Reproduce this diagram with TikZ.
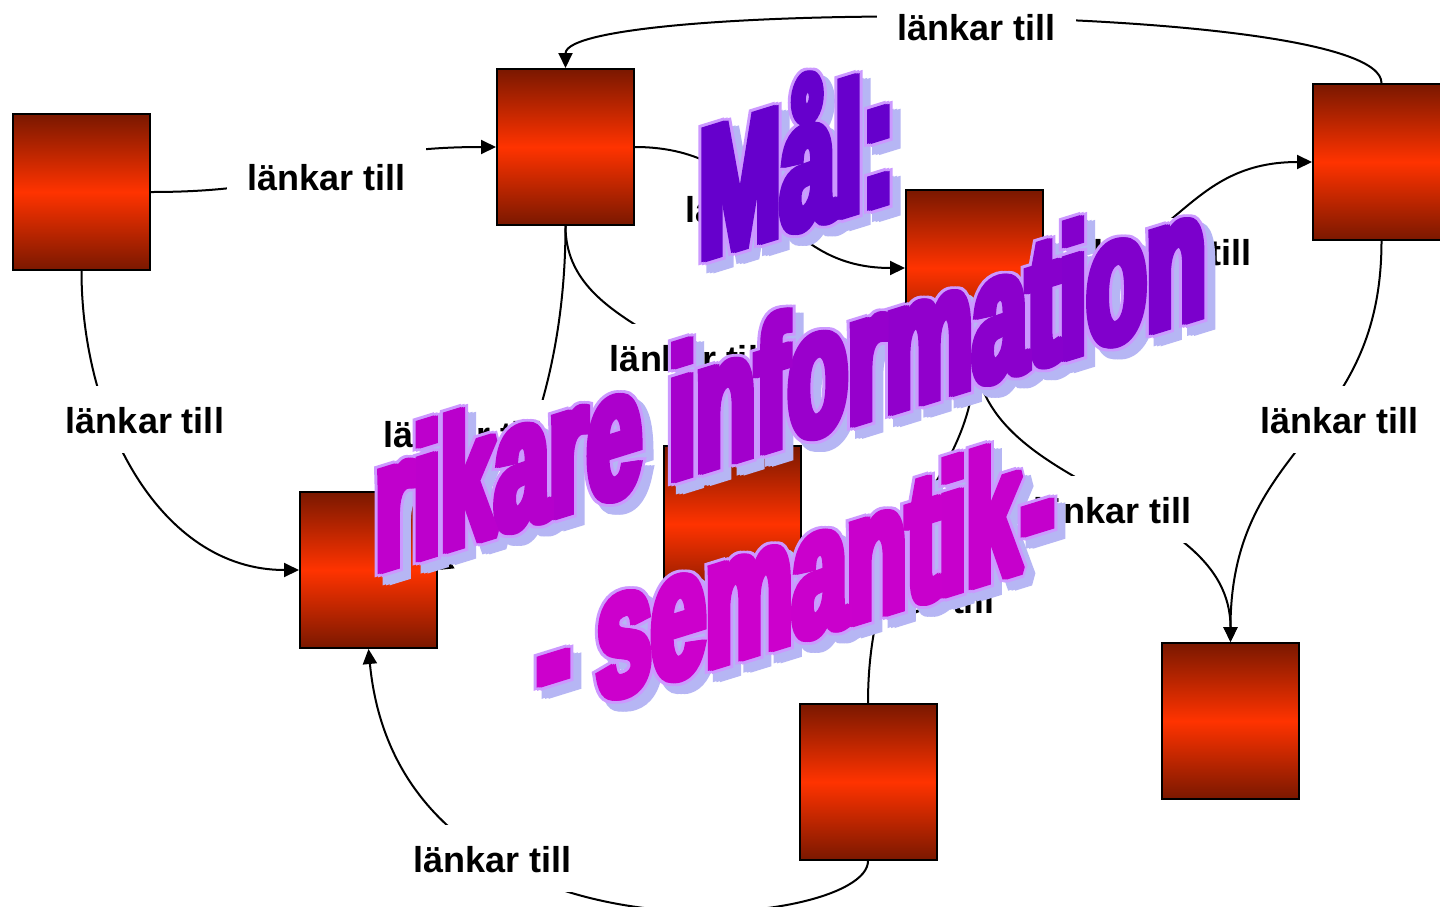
\documentclass[tikz,border=0pt]{standalone}
\usepackage{fontspec}
\setmainfont{Liberation Sans}
\newfontfamily\wafont{Liberation Sans}[UprightFont={* Bold},FakeBold=5]
\newfontfamily\waofont{Liberation Sans}[UprightFont={* Bold},FakeBold=8]
\usetikzlibrary{arrows.meta}
\definecolor{bdark}{RGB}{122,24,0}
\definecolor{bbright}{RGB}{255,51,0}
\definecolor{waV}{RGB}{102,0,204}
\definecolor{waM}{RGB}{204,0,204}
\definecolor{waline}{RGB}{204,153,255}
\definecolor{washadow}{RGB}{182,182,244}
\newif\ifwaplain
\newcommand\wc[2]{\ifwaplain#2\else\textcolor{waM!#1!waV}{#2}\fi}
\newcommand\waOne{\wc{0}{M}\wc{0}{å}\wc{2}{l}\wc{0}{:}}
\newcommand\waTwo{\wc{88}{r}\wc{85}{i}\wc{82}{k}\wc{77}{a}\wc{73}{r}\wc{69}{e} \wc{63}{i}\wc{59}{n}\wc{56}{f}\wc{51}{o}\wc{47}{r}\wc{42}{m}\wc{36}{a}\wc{32}{t}\wc{29}{i}\wc{26}{o}\wc{21}{n}}
\newcommand\waThree{\wc{100}{-} \wc{100}{s}\wc{100}{e}\wc{100}{m}\wc{98}{a}\wc{97}{n}\wc{96}{t}\wc{95}{i}\wc{94}{k}\hspace{-0.27em} \wc{92}{-}}
\tikzset{
  box/.style={draw=black, line width=1pt, minimum width=68.5pt, minimum height=78pt, inner sep=0pt,
    top color=bdark, bottom color=bdark, middle color=bbright},
  conn/.style={draw=black, line width=1pt},
  arr/.style={conn, -{Triangle[length=7.5pt,width=7pt]}},
  lbl/.style={fill=white, font=\bfseries\fontsize{18}{20}\selectfont, text height=13.5pt, text depth=0pt,
    inner xsep=10pt, inner ysep=10pt, anchor=base},
  wabase/.style={inner sep=0pt, anchor=base west, transform shape, yslant=0.31, xscale=0.509, yscale=0.95},
  wamain/.style={wabase, font=\wafont\fontsize{96}{100}\selectfont},
  waout/.style={wabase, font=\waofont\fontsize{96}{100}\selectfont\waplaintrue, text=waline},
  washad/.style={wabase, font=\waofont\fontsize{96}{100}\selectfont\waplaintrue, text=washadow},
  wascope/.style={line join=miter, miter limit=2},
}
% one layer of the word art: style, x, y, text, list of small horizontal offsets
\newcommand\waLayer[5]{\foreach \dx in {#5}{%
  \begin{scope}[wascope, shift={(#2+\dx,#3)}]\node[#1] (wa) at (0,0) {#4};\end{scope}}}
\begin{document}
\begin{tikzpicture}[x=0.5pt,y=-0.5pt]
\useasboundingbox (0,0) rectangle (1440,906);
\fill[white] (0,0) rectangle (1440,906);
\clip (0,0) rectangle (1440,906);
% boxes
\node[box] (A) at (81.5,192) {};
\node[box] (B) at (565.5,147) {};
\node[box] (C) at (1381.5,162) {};
\node[box] (D) at (974.5,268) {};
\node[box] (E) at (368.5,570) {};
\node[box] (F) at (732.5,524) {};
\node[box] (G) at (868,782) {};
\node[box] (H) at (1230.5,721) {};
% connectors
\draw[arr] (A.east) .. controls (323,192) and (323,147) .. (B.west);
\draw[arr] (C.north) .. controls (1381.5,0) and (565.5,0) .. (B.north);
\draw[arr] (B.east) .. controls (770,147) and (770,268) .. (D.west);
\draw[arr] (D.east) .. controls (1178,268) and (1178,162) .. (C.west);
\draw[arr] (A.south) .. controls (81.5,420) and (160,570) .. (E.west);
\draw[arr] (B.south) .. controls (565.5,410) and (495,535) .. (E.east);
\draw[arr] (B.south) .. controls (565.5,335) and (732.5,335) .. (F.north);
\draw[arr] (G.north) .. controls (868,520) and (974.5,480) .. (D.south);
\draw[arr] (D.south) .. controls (974.5,494) and (1230.5,494) .. (H.north);
\draw[arr] (C.south) .. controls (1381.5,440) and (1230.5,440) .. (H.north);
\draw[arr] (G.south) .. controls (868,930) and (400,978) .. (E.south);
% labels
\node[lbl] (l1) at (326.5,190) {länkar till};
\node[lbl] (l2) at (976.5,40) {länkar till};
\node[lbl] (l3) at (764.5,222) {länkar till};
\node[lbl] (l4) at (1172.5,265) {länkar till};
\node[lbl] (l5) at (145,433) {länkar till};
\node[lbl] (l6) at (463,447) {länkar till};
\node[lbl] (l7) at (689,371) {länkar till};
\node[lbl] (l8) at (915,613) {länkar till};
\node[lbl] (l9) at (1112.5,523) {länkar till};
\node[lbl] (l10) at (1339.5,433) {länkar till};
\node[lbl] (l11) at (492.5,872) {länkar till};
% WordArt: shadow, light outline, coloured letters
\waLayer{washad}{707}{267}{\waOne}{-3.5,0,3.5}
\waLayer{waout}{699}{259}{\waOne}{-3.5,0,3.5}
\waLayer{wamain}{699}{259}{\waOne}{-2,0,2}
\waLayer{washad}{383}{579}{\waTwo}{-3.5,0,3.5}
\waLayer{waout}{375}{571}{\waTwo}{-3.5,0,3.5}
\waLayer{wamain}{375}{571}{\waTwo}{-2,0,2}
\waLayer{washad}{545}{728}{\waThree}{-3.5,0,3.5}
\waLayer{waout}{537}{720}{\waThree}{-3.5,0,3.5}
\waLayer{wamain}{537}{720}{\waThree}{-2,0,2}
\end{tikzpicture}
\end{document}
